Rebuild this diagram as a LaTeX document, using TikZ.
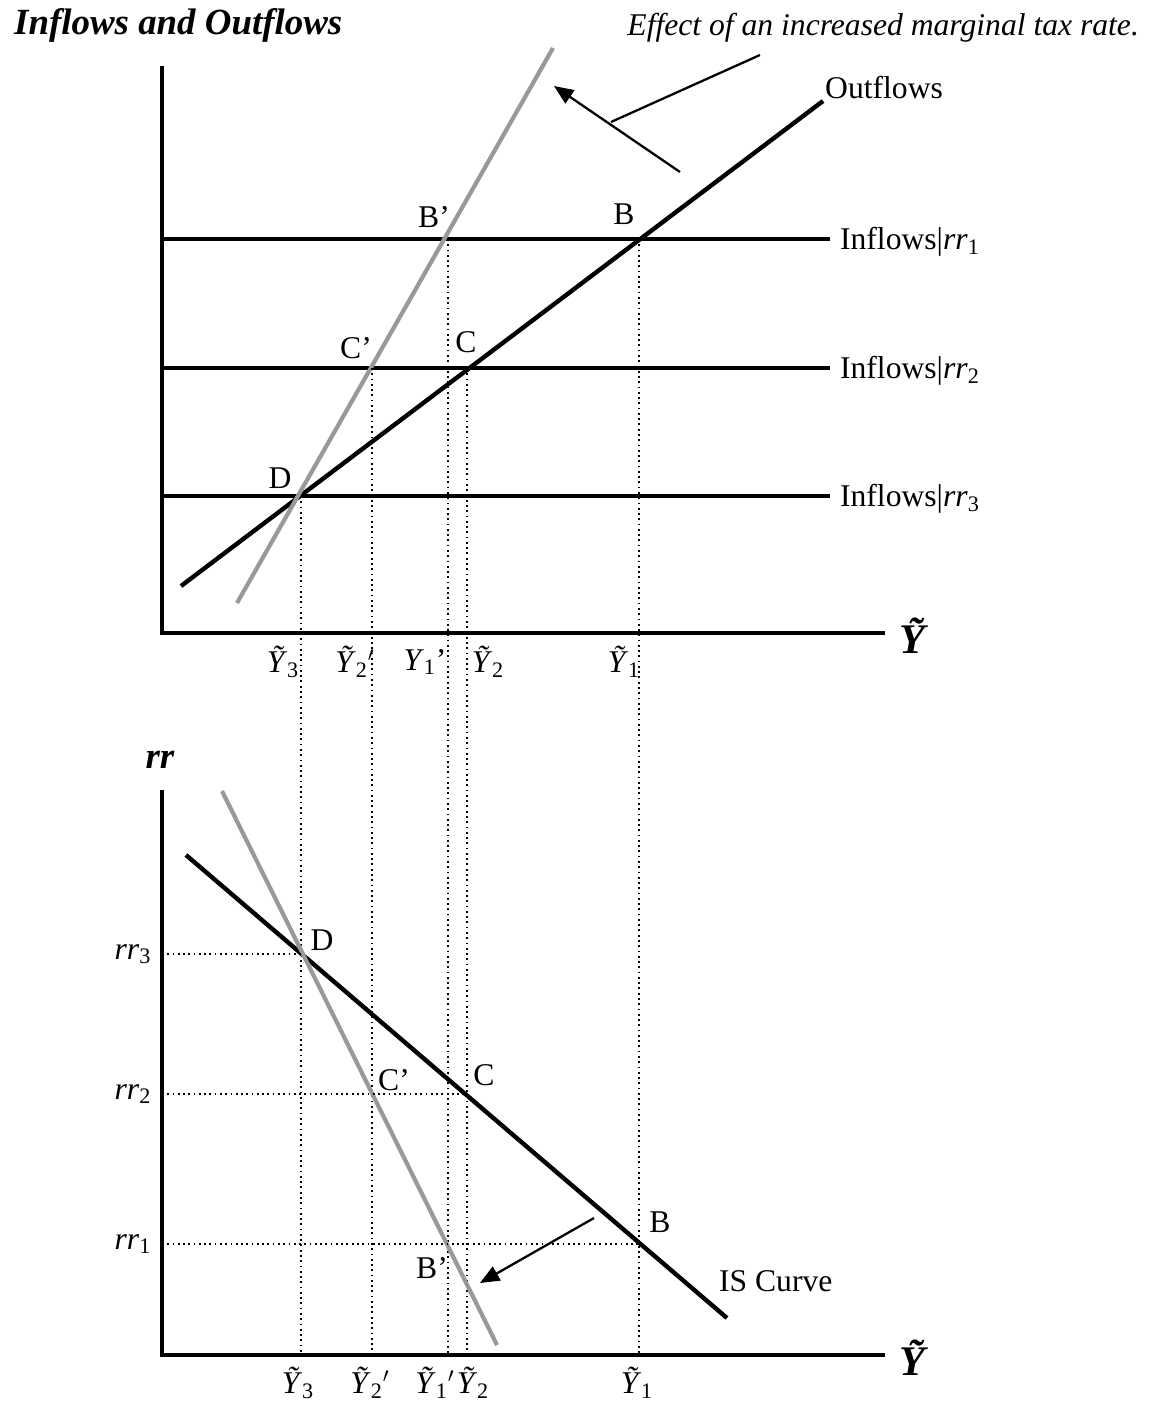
\documentclass[tikz,border=0pt]{standalone}
\usepackage{fontspec}
\setmainfont{Liberation Serif}
\usetikzlibrary{arrows.meta}
\newcommand{\rrsub}[1]{\textit{rr}\textsubscript{#1}}
\newcommand{\ytsub}[1]{\textit{Ỹ}\textsubscript{#1}}
\definecolor{shiftgray}{RGB}{153,153,153}

\begin{document}
\begin{tikzpicture}[x=0.02cm,y=-0.02cm,>={Triangle[length=11pt,width=9pt]},
  axis/.style={line width=2.7pt},
  curve/.style={line width=2.5pt},
  shifted/.style={line width=2.4pt,shiftgray},
  guide/.style={dash pattern=on 1pt off 2pt,line width=1.1pt},
  pointer/.style={line width=1.3pt},
  lbl/.style={font=\fontsize{18}{20}\selectfont,inner sep=1pt}]
  \useasboundingbox (0,0) rectangle (1152,1403);

  % upper panel: inflows and outflows
  \node[anchor=west,font=\fontsize{21}{24}\selectfont\bfseries\itshape] (title) at (8,25) {Inflows and Outflows};
  \node[lbl,anchor=east,font=\fontsize{18}{20}\selectfont\itshape] (effect) at (1141,28) {Effect of an increased marginal tax rate.};
  \draw[axis] (162,66) -- (162,633) -- (885,633);
  \node[font=\fontsize{24}{26}\selectfont\bfseries\itshape] (ytop) at (912,636) {Ỹ};

  \foreach \yy/\k in {239/1,368/2,496/3} {
    \draw[curve] (162,\yy) -- (830,\yy);
    \node[lbl,anchor=west] at (838,\yy+3) {Inflows|\rrsub{\k}};
  }
  \draw[curve] (181,586) -- (823,101) node[lbl,anchor=south west,inner sep=0pt] {Outflows};
  \draw[shifted] (237,603) -- (553,48);

  \coordinate (tax) at (611,122);
  \draw[pointer] (760,55) -- (tax);
  \draw[pointer,->] (680,172) -- (554,86);

  \coordinate (B) at (639,239);
  \coordinate (Bp) at (448,239);
  \coordinate (C) at (467,368);
  \coordinate (Cp) at (372,368);
  \coordinate (D) at (301,496);
  \node[lbl] at (624,214) {B};
  \node[lbl] at (434,217) {B’};
  \node[lbl] at (466,342) {C};
  \node[lbl] at (356,348) {C’};
  \node[lbl] at (280,478) {D};

  \foreach \p in {B,Bp,C,Cp,D}
    \draw[guide] (\p) -- (\p |- 0,1355);

  \node[lbl] at (283,662) {\ytsub{3}};
  \node[lbl] at (355,662) {\ytsub{2}$'$};
  \node[lbl] at (425,662) {\textit{Y}\textsubscript{1}’};
  \node[lbl] at (488,662) {\ytsub{2}};
  \node[lbl] at (624,662) {\ytsub{1}};

  % lower panel: IS curve
  \node[font=\fontsize{21}{24}\selectfont\bfseries\itshape] (rr) at (160,760) {rr};
  \draw[axis] (162,790) -- (162,1355) -- (885,1355);
  \node[font=\fontsize{24}{26}\selectfont\bfseries\itshape] (ybot) at (912,1358) {Ỹ};

  \draw[curve] (186,855) -- (727,1318);
  \draw[shifted] (222,791) -- (497,1345);
  \node[lbl,anchor=west] at (717,1281) {IS Curve};
  \draw[pointer,->] (594,1218) -- (480,1283);

  \coordinate (Dl) at (301,954);
  \coordinate (Cl) at (467,1094);
  \coordinate (Bl) at (639,1244);
  \foreach \p/\k in {Dl/3,Cl/2,Bl/1} {
    \draw[guide] (162,0 |- \p) -- (\p);
    \node[lbl] at (133,0 |- \p) {\rrsub{\k}};
  }
  \node[lbl] at (322,940) {D};
  \node[lbl] at (394,1080) {C’};
  \node[lbl] at (484,1075) {C};
  \node[lbl] at (660,1222) {B};
  \node[lbl] at (432,1268) {B’};

  \node[lbl] at (298,1383) {\ytsub{3}};
  \node[lbl] at (370,1383) {\ytsub{2}$'$};
  \node[lbl] at (435,1383) {\ytsub{1}$'$};
  \node[lbl] at (473,1383) {\ytsub{2}};
  \node[lbl] at (637,1383) {\ytsub{1}};
\end{tikzpicture}
\end{document}
